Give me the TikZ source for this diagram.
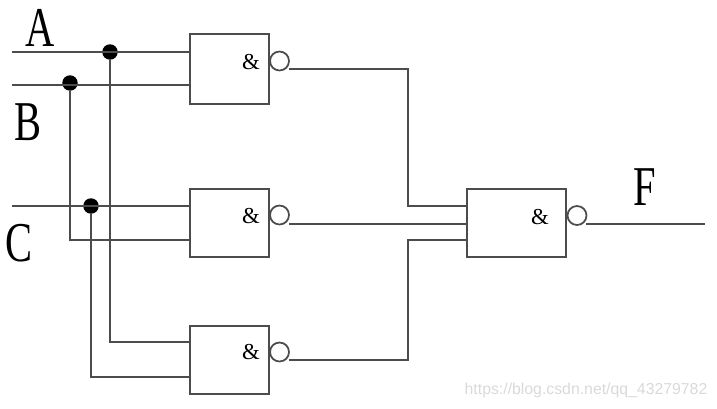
\documentclass[tikz,border=0pt]{standalone}
\usepackage{fontspec}
\setmainfont{Liberation Serif}
\newfontfamily\markfont{Liberation Sans}
\newcommand{\bigletter}[1]{\scalebox{0.72}[1]{\fontsize{32}{32}\selectfont #1}}
\tikzset{
	wire/.style={draw=black!70, line width=1pt},
	gate/.style={draw=black!70, line width=1.1pt, fill=white, minimum width=1.58cm, minimum height=1.37cm, inner sep=0pt},
	bubble/.style={circle, draw=black!70, line width=1pt, fill=white, minimum size=0.38cm, inner sep=0pt},
	junction/.style={circle, fill=black, minimum size=0.31cm, inner sep=0pt},
	amp/.style={inner sep=0pt, font=\fontsize{13}{13}\selectfont},
	letter/.style={inner sep=0pt}
}
\begin{document}
\begin{tikzpicture}[x=0.02cm, y=-0.02cm]
	\useasboundingbox (0,0) rectangle (717,409);

	\node at (229.5,69) [gate, minimum height=1.4cm] (g1) {};
	\node at (229.5,223) [gate] (g2) {};
	\node at (229.5,360) [gate] (g3) {};
	\node at (516.5,223) [gate, minimum width=1.98cm] (g4) {};

	\node at (251,62) [amp] (amp1) {\&};
	\node at (251,216) [amp] (amp2) {\&};
	\node at (251,352) [amp] (amp3) {\&};
	\node at (540,217) [amp] (amp4) {\&};

	\node at (279.5,61) [bubble] (b1) {};
	\node at (279.5,215) [bubble] (b2) {};
	\node at (279.5,352) [bubble] (b3) {};
	\node at (577,215.5) [bubble] (b4) {};

	\node at (110,52) [junction] (ja) {};
	\node at (70,83) [junction] (jb) {};
	\node at (91,206) [junction] (jc) {};

	\coordinate (ina) at (12,52);
	\coordinate (inb) at (12,85);
	\coordinate (inc) at (12,206);
	\coordinate (g1a) at (190,52);
	\coordinate (g1b) at (190,85);
	\coordinate (g2a) at (190,206);
	\coordinate (g2b) at (190,240);
	\coordinate (g3a) at (190,342);
	\coordinate (g3b) at (190,377);
	\coordinate (o1) at (289,69);
	\coordinate (o2) at (289,224);
	\coordinate (o3) at (289,360);
	\coordinate (g4a) at (467,206);
	\coordinate (g4b) at (467,224);
	\coordinate (g4c) at (467,240);
	\coordinate (o4) at (586,224);
	\coordinate (out) at (705,224);

	\draw [wire] (ina) -- (g1a);
	\draw [wire] (inb) -- (g1b);
	\draw [wire] (inc) -- (g2a);
	\draw [wire] (jb) |- (g2b);
	\draw [wire] (ja) |- (g3a);
	\draw [wire] (jc) |- (g3b);
	\draw [wire] (o1) -| (408,206) -- (g4a);
	\draw [wire] (o2) -- (g4b);
	\draw [wire] (o3) -| (408,240) -- (g4c);
	\draw [wire] (o4) -- (out);

	\node at (40,27.5) [letter] (la) {\bigletter{A}};
	\node at (28,122.5) [letter] (lb) {\bigletter{B}};
	\node at (19,243) [letter] (lc) {\bigletter{C}};
	\node at (644.5,187.5) [letter] (lf) {\bigletter{F}};

	\node at (586,390) [inner sep=0pt, text=black!15, font=\markfont\fontsize{9}{9}\selectfont] (mark) {https://blog.csdn.net/qq\_43279782};
\end{tikzpicture}
\end{document}
